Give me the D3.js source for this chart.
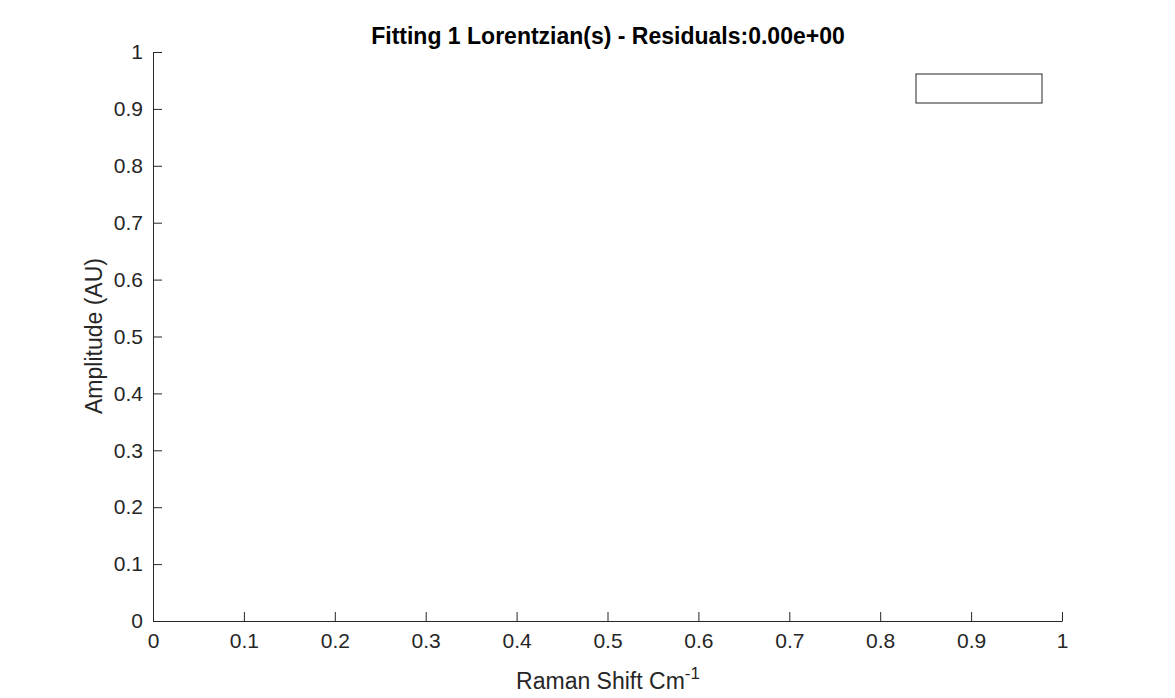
<!DOCTYPE html>
<html><head><meta charset="utf-8">
<script src="https://cdn.jsdelivr.net/npm/d3@7"></script>
<style>body{margin:0;background:#fff}text{font-family:"Liberation Sans",Arial,sans-serif}</style>
</head><body>
<svg id="c" width="1175" height="698"></svg>
<script>
const xTicks=[0,0.1,0.2,0.3,0.4,0.5,0.6,0.7,0.8,0.9,1];
const yTicks=[0,0.1,0.2,0.3,0.4,0.5,0.6,0.7,0.8,0.9,1];
const titleText="Fitting 1 Lorentzian(s) - Residuals:0.00e+00";
const svg=d3.select("#c");
const L=153,R=1062,T=52,B=621;
const x=d3.scaleLinear().domain([0,1]).range([L,R]);
const y=d3.scaleLinear().domain([0,1]).range([B,T]);
const fmt=d=>String(d);
const gx=svg.append("g").attr("transform",`translate(0,${B})`)
 .call(d3.axisBottom(x).tickValues(xTicks).tickFormat(fmt).tickSizeInner(-9).tickSizeOuter(0).tickPadding(12));
const gy=svg.append("g").attr("transform",`translate(${L},0)`)
 .call(d3.axisLeft(y).tickValues(yTicks).tickFormat(fmt).tickSizeInner(-9).tickSizeOuter(0).tickPadding(10));
[gx,gy].forEach(g=>{g.attr("font-size",null).attr("font-family",null);g.selectAll("path,line").attr("stroke","#262626");g.selectAll("text").attr("fill","#262626").style("font-size","21px")});
gy.selectAll("text").attr("x",-10);
svg.append("text").attr("x",608).attr("y",44).attr("text-anchor","middle").style("font-weight","bold").style("font-size","23px").attr("fill","#000").text(titleText);
const xl=svg.append("text").attr("x",608).attr("y",689).attr("text-anchor","middle").style("font-size","23px").attr("fill","#262626");
xl.append("tspan").text("Raman Shift Cm");
xl.append("tspan").attr("dy",-10).style("font-size","17px").text("-1");
svg.append("text").attr("transform","translate(102,336) rotate(-90)").attr("text-anchor","middle").style("font-size","23px").attr("fill","#262626").text("Amplitude (AU)");
svg.append("rect").attr("x",916).attr("y",74).attr("width",126).attr("height",29).attr("fill","#fff").attr("stroke","#262626");
</script>
</body></html>
